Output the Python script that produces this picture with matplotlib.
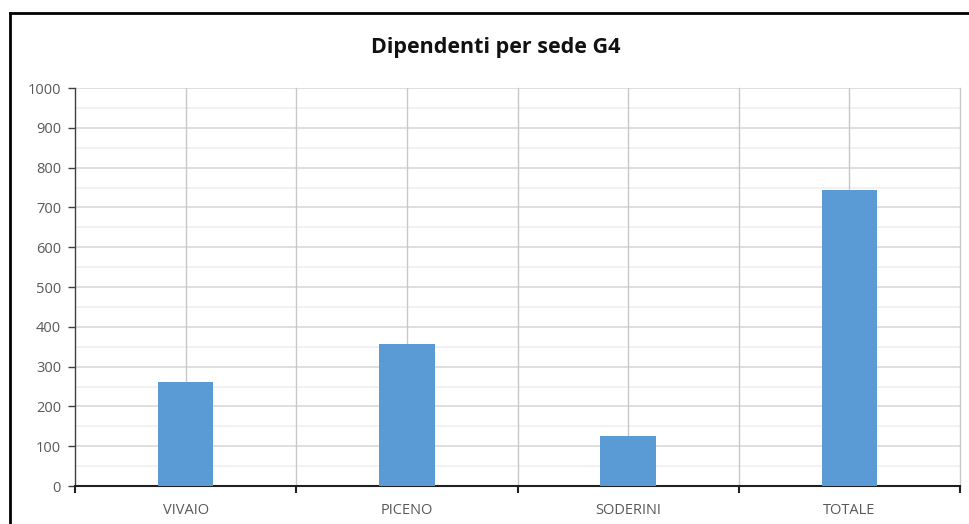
import matplotlib
matplotlib.use("Agg")
import matplotlib.pyplot as plt
from matplotlib.lines import Line2D
import numpy as np

title = "Dipendenti per sede G4"
categories = ["VIVAIO", "PICENO", "SODERINI", "TOTALE"]
dipendenti = [261, 357, 126, 744]
y_ticks = list(range(0, 1001, 100))

plt.rcParams["font.family"] = ["Open Sans", "DejaVu Sans"]

fig = plt.figure(figsize=(9.70, 5.24), dpi=100)
ax = fig.add_axes([75 / 970, 1 - 486 / 524, 885 / 970, 398 / 524])

x = np.arange(len(categories))
ax.bar(x, dipendenti, width=0.25, color="#5B9BD5", zorder=3)

ax.set_xlim(-0.5, len(categories) - 0.5)
ax.set_ylim(0, 1000)

# horizontal gridlines: major every 100, minor every 50
for v in np.arange(50, 1000, 100):
    ax.axhline(v, color="#f0f0f0", lw=1.2, zorder=1)
for v in y_ticks[1:]:
    ax.axhline(v, color="#d9d9d9", lw=1.2, zorder=1)

# vertical gridlines at category centres and between categories
for xc in x:
    ax.axvline(xc, color="#c8c8c8", lw=1.0, zorder=1)
for xb in np.arange(0.5, len(categories), 1.0):
    ax.axvline(xb, color="#c8c8c8", lw=1.0, zorder=1, clip_on=False)

ax.set_yticks(y_ticks)
ax.set_yticklabels([str(v) for v in y_ticks])
ax.set_xticks(np.arange(-0.5, len(categories), 1.0))
ax.set_xticklabels([])
ax.set_xticks(x, minor=True)
ax.set_xticklabels(categories, minor=True)

ax.tick_params(axis="y", which="major", length=5, width=1, color="#404040",
               labelsize=10.5, labelcolor="#595959", pad=5)
ax.tick_params(axis="x", which="major", length=5, width=1.5, color="#202020")
ax.tick_params(axis="x", which="minor", length=0, labelsize=10.5,
               labelcolor="#595959", pad=12)

for s in ["top", "right"]:
    ax.spines[s].set_visible(False)
ax.spines["left"].set_color("#404040")
ax.spines["left"].set_linewidth(1.0)
ax.spines["bottom"].set_color("#202020")
ax.spines["bottom"].set_linewidth(1.5)

fig.text(496 / 970, 1 - 47 / 524, title, ha="center", va="center",
         fontsize=15.5, fontweight="bold", color="#111111")

# chart frame edges
fig.add_artist(Line2D([10 / 970, 1.0], [1 - 13 / 524, 1 - 13 / 524],
                      transform=fig.transFigure, color="black", lw=2))
fig.add_artist(Line2D([10 / 970, 10 / 970], [0, 1 - 13 / 524],
                      transform=fig.transFigure, color="black", lw=2))

fig.savefig("out.png", dpi=100)
